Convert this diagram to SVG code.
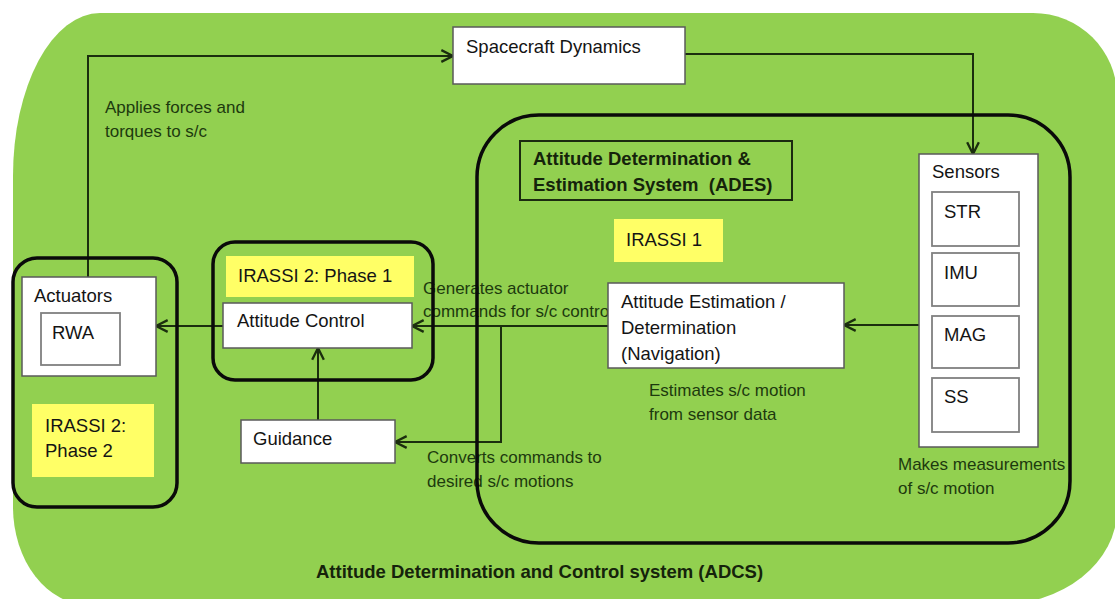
<svg xmlns="http://www.w3.org/2000/svg" width="1115" height="599" viewBox="0 0 1115 599">
<style>
.lbl{font-family:"Liberation Sans",Arial,sans-serif;font-size:18.5px;fill:#141414}
.ann{font-family:"Liberation Sans",Arial,sans-serif;font-size:17px;fill:#1d3a0e}
.bold{font-family:"Liberation Sans",Arial,sans-serif;font-size:18.5px;font-weight:bold;fill:#15230b}
.box{fill:#ffffff;stroke:#5a5a5a;stroke-width:1.5}
.ibox{fill:#ffffff;stroke:#808080;stroke-width:1.8}
.yel{fill:#ffff66}
.grp{fill:none;stroke:#0a0a0a;stroke-width:3.5}
.con{fill:none;stroke:#1b2e0e;stroke-width:2}
</style>
<defs>
<marker id="arr" markerUnits="userSpaceOnUse" markerWidth="14" markerHeight="14" viewBox="0 0 12 12" refX="11" refY="6" orient="auto">
<path d="M1,1 L11,6 L1,11" fill="none" stroke="#1b2e0e" stroke-width="2"/>
</marker>
</defs>
<g id="adcs-background">
<path d="M100,13 H1033 A84 83 0 0 1 1117 96 V510 A120 95 0 0 1 997 605 H89 A76 98 0 0 1 13 507 V176 A87 163 0 0 1 100 13 Z" fill="#92d050"/>
</g>
<g id="annotations">
<text class="ann" x="105" y="113">Applies forces and</text>
<text class="ann" x="105" y="137">torques to s/c</text>
<text class="ann" x="423" y="294">Generates actuator</text>
<text class="ann" x="423" y="317">commands for s/c control</text>
<text class="ann" x="427" y="463">Converts commands to</text>
<text class="ann" x="427" y="487">desired s/c motions</text>
<text class="ann" x="649" y="396">Estimates s/c motion</text>
<text class="ann" x="649" y="420">from sensor data</text>
<text class="ann" x="898" y="470">Makes measurements</text>
<text class="ann" x="898" y="494">of s/c motion</text>
<text class="bold" x="316" y="578">Attitude Determination and Control system (ADCS)</text>
</g>
<g id="connectors">
<path class="con" d="M88,277 V56 H453" marker-end="url(#arr)"/>
<path class="con" d="M685,54 H973 V154" marker-end="url(#arr)"/>
<path class="con" d="M919,325 H844" marker-end="url(#arr)"/>
<path class="con" d="M608,326 H412" marker-end="url(#arr)"/>
<path class="con" d="M501,326 V442 H395" marker-end="url(#arr)"/>
<path class="con" d="M318,420 V348" marker-end="url(#arr)"/>
<path class="con" d="M223,326 H156" marker-end="url(#arr)"/>
</g>
<g id="spacecraft-dynamics">
<rect class="box" x="453" y="27" width="232" height="57"/>
<text class="lbl" x="466" y="53">Spacecraft Dynamics</text>
</g>
<g id="actuators-group">
<rect class="grp" x="13" y="258" width="164" height="249" rx="24"/>
</g>
<g id="actuators">
<rect class="box" x="22" y="277" width="134" height="99"/>
<text class="lbl" x="34" y="302">Actuators</text>
</g>
<g id="rwa">
<rect class="ibox" x="41" y="313" width="79" height="52"/>
<text class="lbl" x="52" y="339">RWA</text>
</g>
<g id="irassi2-phase2">
<rect class="yel" x="32" y="404" width="122" height="73"/>
<text class="lbl" x="45" y="432">IRASSI 2:</text>
<text class="lbl" x="45" y="457">Phase 2</text>
</g>
<g id="phase1-group">
<rect class="grp" x="213" y="242" width="220" height="138" rx="22"/>
</g>
<g id="irassi2-phase1">
<rect class="yel" x="226" y="256" width="188" height="41"/>
<text class="lbl" x="238" y="282">IRASSI 2: Phase 1</text>
</g>
<g id="attitude-control">
<rect class="box" x="223" y="303" width="189" height="45"/>
<text class="lbl" x="237" y="327">Attitude Control</text>
</g>
<g id="guidance">
<rect class="box" x="241" y="420" width="154" height="43"/>
<text class="lbl" x="253" y="445">Guidance</text>
</g>
<g id="ades-group">
<rect class="grp" x="477" y="115" width="593" height="428" rx="62"/>
</g>
<g id="ades-title">
<rect x="520" y="141" width="272" height="59" fill="none" stroke="#1b2a10" stroke-width="2"/>
<text class="bold" x="533" y="165">Attitude Determination &amp;</text>
<text class="bold" x="533" y="191" style="white-space:pre">Estimation System  (ADES)</text>
</g>
<g id="irassi1">
<rect class="yel" x="614" y="219" width="109" height="43"/>
<text class="lbl" x="626" y="246">IRASSI 1</text>
</g>
<g id="attitude-estimation">
<rect class="box" x="608" y="283" width="236" height="85"/>
<text class="lbl" x="621" y="308">Attitude Estimation /</text>
<text class="lbl" x="621" y="334">Determination</text>
<text class="lbl" x="621" y="360">(Navigation)</text>
</g>
<g id="sensors">
<rect class="box" x="919" y="154" width="119" height="293"/>
<text class="lbl" x="932" y="178">Sensors</text>
</g>
<g id="str">
<rect class="ibox" x="932" y="192" width="87" height="54"/>
<text class="lbl" x="944" y="218">STR</text>
</g>
<g id="imu">
<rect class="ibox" x="932" y="253" width="87" height="53"/>
<text class="lbl" x="944" y="279">IMU</text>
</g>
<g id="mag">
<rect class="ibox" x="932" y="316" width="87" height="52"/>
<text class="lbl" x="944" y="341">MAG</text>
</g>
<g id="ss">
<rect class="ibox" x="932" y="378" width="87" height="54"/>
<text class="lbl" x="944" y="403">SS</text>
</g>
</svg>
